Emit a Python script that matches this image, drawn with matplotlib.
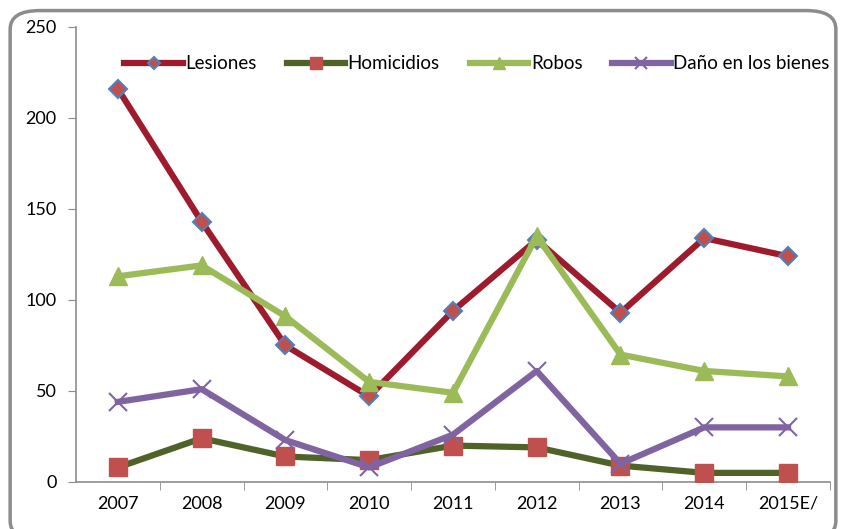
import matplotlib
matplotlib.use("Agg")
import matplotlib.pyplot as plt
from matplotlib.patches import FancyBboxPatch

plt.rcParams['font.family'] = ['Lato', 'DejaVu Sans']

years = ["2007", "2008", "2009", "2010", "2011", "2012", "2013", "2014", "2015E/"]
lesiones = [216, 143, 75, 47, 94, 133, 93, 134, 124]
homicidios = [8, 24, 14, 12, 20, 19, 9, 5, 5]
robos = [113, 119, 91, 55, 49, 135, 70, 61, 58]
dano = [44, 51, 23, 8, 26, 61, 10, 30, 30]

fig = plt.figure(figsize=(8.46, 5.29), dpi=100)
ax = fig.add_axes([0.0898, 0.0889, 0.8912, 0.8601])

# rounded frame round the whole chart
frame = FancyBboxPatch((0.012, -0.02), 0.976, 1.0, boxstyle="round,pad=0,rounding_size=0.035",
                       transform=fig.transFigure, facecolor="none", edgecolor="#8c8c8c",
                       linewidth=2.5, zorder=0)
fig.patches.append(frame)

x = list(range(len(years)))
ax.plot(x, lesiones, color="#9e1b2e", lw=4.5, marker="D", ms=9, mfc="#c0504d",
        mec="#4f81bd", mew=1.5, label="Lesiones", zorder=4)
ax.plot(x, homicidios, color="#4f6228", lw=4.5, marker="s", ms=13, mfc="#c0504d",
        mec="#c0504d", label="Homicidios", zorder=3)
ax.plot(x, robos, color="#9bbb59", lw=4.5, marker="^", ms=13, mfc="#9bbb59",
        mec="#9bbb59", label="Robos", zorder=5)
ax.plot(x, dano, color="#8064a2", lw=4.5, marker="x", ms=13, mew=1.5,
        label="Daño en los bienes", zorder=3)

ax.set_xlim(-0.5, len(years) - 0.5)
ax.set_ylim(0, 250)
ax.set_yticks([0, 50, 100, 150, 200, 250])
ax.set_xticks(x)
ax.set_xticklabels(years)
ax.set_xticks([i + 0.5 for i in range(len(years))], minor=True)
ax.tick_params(axis="x", which="major", length=0, pad=10, labelsize=13)
ax.tick_params(axis="x", which="minor", length=6, color="#8c8c8c", direction="out")
ax.tick_params(axis="y", length=6, color="#8c8c8c", labelsize=13, pad=8)

for s in ["top", "right"]:
    ax.spines[s].set_visible(False)
for s in ["left", "bottom"]:
    ax.spines[s].set_color("#8c8c8c")
    ax.spines[s].set_linewidth(1.2)

ax.legend(loc="upper center", bbox_to_anchor=(0.532, 0.975), ncol=4, frameon=False,
          fontsize=13.5, handlelength=3.1, handletextpad=0.15, columnspacing=1.6,
          markerscale=0.7)

fig.savefig("out.png", dpi=100)
